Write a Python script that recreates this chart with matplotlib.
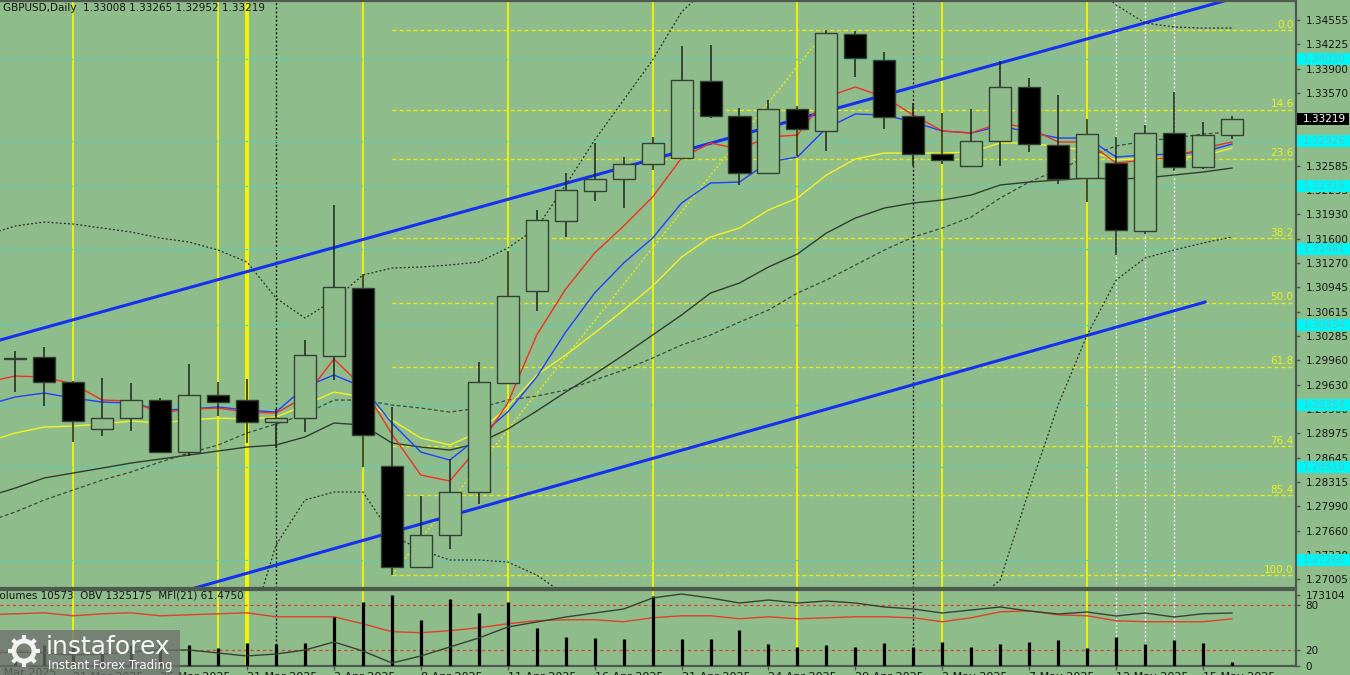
import matplotlib
matplotlib.use("Agg")
import matplotlib.pyplot as plt
import matplotlib.transforms as mtransforms
from matplotlib.patches import Rectangle, Circle
import numpy as np
import pandas as pd

# ---- data (GBPUSD daily) ----
dates = pd.bdate_range("2025-03-18", "2025-05-16")
nan = np.nan
opens = [nan, 1.29985, 1.30006, 1.29668, 1.29034, 1.29182, 1.29425, 1.28723, 1.29493, 1.29425,
         1.29128, 1.29182, 1.30019, 1.30937, 1.28534, 1.27171, 1.27603, 1.28184, 1.29655, 1.30897,
         1.31842, 1.32247, 1.32409, 1.32611, 1.32692, 1.33732, 1.33259, 1.32490, 1.33354, 1.33057,
         1.34366, 1.34015, 1.33259, 1.32746, 1.32584, 1.32922, 1.33651, 1.32868, 1.32422, 1.32625,
         1.31707, 1.33030, 1.32571, 1.33008]
highs = [nan, 1.30087, 1.30141, 1.29682, 1.29722, 1.29655, 1.29452, 1.29911, 1.29668, 1.29709,
         1.29304, 1.30235, 1.32058, 1.31126, 1.29331, 1.28129, 1.28629, 1.29938, 1.31437, 1.31990,
         1.32490, 1.32895, 1.32706, 1.32976, 1.34204, 1.34217, 1.33367, 1.33475, 1.33394, 1.34420,
         1.34407, 1.34123, 1.33435, 1.33300, 1.33354, 1.34002, 1.33772, 1.33543, 1.33219, 1.32976,
         1.33138, 1.33583, 1.33178, 1.33265]
lows = [nan, 1.29533, 1.29344, 1.28858, 1.28939, 1.29007, 1.28710, 1.28669, 1.29209, 1.28845,
        1.28777, 1.28993, 1.29695, 1.28521, 1.27063, 1.27160, 1.27414, 1.28022, 1.29645, 1.30627,
        1.31626, 1.32112, 1.32017, 1.32530, 1.32680, 1.33232, 1.32328, 1.32476, 1.32719, 1.32787,
        1.33786, 1.33084, 1.32584, 1.32611, 1.32570, 1.32584, 1.32773, 1.32341, 1.32098, 1.31383,
        1.31666, 1.32517, 1.32544, 1.32952]
closes = [nan, 1.29995, 1.29668, 1.29142, 1.29182, 1.29425, 1.28723, 1.29493, 1.29398, 1.29128,
          1.29182, 1.30033, 1.30951, 1.28953, 1.27171, 1.27603, 1.28184, 1.29668, 1.30829, 1.31855,
          1.32260, 1.32409, 1.32611, 1.32895, 1.33745, 1.33259, 1.32490, 1.33354, 1.33084, 1.34380,
          1.34042, 1.33246, 1.32746, 1.32665, 1.32922, 1.33651, 1.32881, 1.32409, 1.33016, 1.31720,
          1.33030, 1.32571, 1.33003, 1.33219]

ma_red = [1.29668, 1.29749, 1.29736, 1.29642, 1.29425, 1.29412, 1.29250, 1.29304, 1.29317, 1.29263,
          1.29250, 1.29466, 1.29979, 1.29601, 1.28966, 1.28413, 1.28332, 1.28791, 1.29385, 1.30303,
          1.30924, 1.31410, 1.31774, 1.32166, 1.32692, 1.32895, 1.32814, 1.32976, 1.33003, 1.33516,
          1.33651, 1.33516, 1.33273, 1.33057, 1.33030, 1.33165, 1.33097, 1.32908, 1.32908, 1.32625,
          1.32665, 1.32706, 1.32827, 1.32908]
ma_blue = [1.29358, 1.29466, 1.29520, 1.29452, 1.29398, 1.29385, 1.29290, 1.29304, 1.29331, 1.29290,
           1.29263, 1.29601, 1.29763, 1.29601, 1.29115, 1.28723, 1.28615, 1.28926, 1.29263, 1.29736,
           1.30343, 1.30870, 1.31275, 1.31612, 1.32085, 1.32355, 1.32368, 1.32638, 1.32706, 1.33097,
           1.33286, 1.33273, 1.33178, 1.33057, 1.33030, 1.33124, 1.33043, 1.32962, 1.32962, 1.32706,
           1.32733, 1.32746, 1.32773, 1.32881]
ma_yellow = [1.28858, 1.28980, 1.29061, 1.29074, 1.29101, 1.29142, 1.29115, 1.29155, 1.29182, 1.29169,
             1.29196, 1.29358, 1.29533, 1.29466, 1.29155, 1.28912, 1.28818, 1.28993, 1.29331, 1.29763,
             1.30033, 1.30330, 1.30640, 1.30964, 1.31356, 1.31626, 1.31747, 1.31990, 1.32152, 1.32463,
             1.32679, 1.32760, 1.32760, 1.32760, 1.32773, 1.32895, 1.32895, 1.32841, 1.32800, 1.32665,
             1.32692, 1.32692, 1.32719, 1.32827]
ma_gray = [1.28116, 1.28237, 1.28373, 1.28440, 1.28507, 1.28575, 1.28629, 1.28683, 1.28737, 1.28791,
           1.28818, 1.28926, 1.29115, 1.29088, 1.28845, 1.28791, 1.28750, 1.28845, 1.29034, 1.29277,
           1.29533, 1.29776, 1.30033, 1.30303, 1.30573, 1.30870, 1.31005, 1.31221, 1.31396, 1.31680,
           1.31882, 1.32017, 1.32085, 1.32125, 1.32193, 1.32328, 1.32368, 1.32395, 1.32422, 1.32409,
           1.32422, 1.32463, 1.32503, 1.32557]
bb_mid = [1.27778, 1.27914, 1.28076, 1.28211, 1.28345, 1.28454, 1.28588, 1.28710, 1.28818, 1.28980,
          1.29101, 1.29236, 1.29425, 1.29425, 1.29358, 1.29317, 1.29263, 1.29317, 1.29425, 1.29479,
          1.29560, 1.29695, 1.29830, 1.29992, 1.30168, 1.30303, 1.30478, 1.30640, 1.30870, 1.31045,
          1.31248, 1.31450, 1.31626, 1.31747, 1.31896, 1.32152, 1.32368, 1.32530, 1.32706, 1.32854,
          1.32922, 1.32962, 1.33016, 1.33043]
bb_up = [1.31653, 1.31774, 1.31828, 1.31801, 1.31747, 1.31693, 1.31612, 1.31558, 1.31450, 1.31288,
         1.30802, 1.30532, 1.30775, 1.31113, 1.31207, 1.31221, 1.31248, 1.31288, 1.31477, 1.31747,
         1.32328, 1.32935, 1.33475, 1.34015, 1.34663, 1.35027, 1.35365, 1.35635, 1.35905, 1.36175,
         1.36445, 1.36580, 1.36715, 1.36850, 1.37120, 1.37309, 1.36661, 1.35905, 1.35108, 1.34758,
         1.34515, 1.34461, 1.34447, 1.34447]
bb_lo = [1.23850, 1.24026, 1.24161, 1.24363, 1.24566, 1.24836, 1.25106, 1.25376, 1.25646, 1.26186,
         1.27468, 1.28076, 1.28184, 1.28184, 1.27603, 1.27401, 1.27266, 1.27266, 1.27239, 1.27063,
         1.26793, 1.26456, 1.26186, 1.25970, 1.25713, 1.25578, 1.25592, 1.25646, 1.25835, 1.25916,
         1.26051, 1.26321, 1.26537, 1.26645, 1.26672, 1.26996, 1.28211, 1.29358, 1.30303, 1.31045,
         1.31342, 1.31450, 1.31545, 1.31626]

volumes = [50000, 47000, 50000, 52000, 48000, 50000, 51000, 51200, 43900, 56100,
           53600, 56100, 119500, 156000, 173104, 112100, 163300, 129200, 156000, 92600,
           70700, 68300, 65800, 170700, 65800, 65800, 87800, 53600, 46300, 51200,
           46300, 56100, 46300, 58500, 46300, 53600, 58500, 63400, 43900, 70700,
           53600, 63400, 56100, 10573]
obv = [745175, 759675, 745175, 716175, 730675, 759675, 788675, 788675, 745175, 701675,
       730675, 788675, 904675, 774175, 600175, 701675, 832175, 962675, 1122175, 1194675,
       1267175, 1325175, 1383175, 1542675, 1600675, 1542675, 1470175, 1513675, 1470175, 1499175,
       1470175, 1412175, 1383175, 1325175, 1368675, 1412175, 1354175, 1310675, 1339675, 1281675,
       1325175, 1267175, 1314602, 1325175]
mfi = [66.9, 68.2, 69.5, 65.6, 68.2, 69.5, 65.6, 66.9, 68.2, 69.5,
       64.3, 64.3, 64.3, 55.1, 44.7, 43.4, 46.0, 49.9, 55.1, 59.1,
       60.4, 60.4, 57.8, 63.0, 65.6, 65.6, 61.7, 64.3, 61.7, 63.0,
       64.3, 64.3, 63.0, 57.8, 63.0, 70.8, 72.1, 66.9, 65.6, 59.1,
       57.8, 57.8, 57.8, 61.475]

# drawn objects
chan_up_x, chan_up_y = [0, 42.7], [1.30184, 1.34809]
chan_lo_x, chan_lo_y = [0, 42.07], [1.26091, 1.30748]
fib_hi_idx, fib_lo_idx = 29, 14
fib_levels = [0.0, 14.6, 23.6, 38.2, 50.0, 61.8, 76.4, 85.4, 100.0]
cyan_levels = [1.34030, 1.32926, 1.32315, 1.31461, 1.30434, 1.29354, 1.28519, 1.27266]
friday_lines = [3, 8, 13, 18, 23, 28, 33, 38]
thick_yellow = [9]
month_lines = [10, 32]
white_lines = [39, 40, 41]
# 1.32915 and 1.33240 sit fully under the level boxes, so they are left out
price_ticks = [1.27005, 1.27330, 1.27660, 1.27990, 1.28315, 1.28645, 1.28975, 1.29300, 1.29630,
               1.29960, 1.30285, 1.30615, 1.30945, 1.31270, 1.31600, 1.31930, 1.32255, 1.32585,
               1.33570, 1.33900, 1.34225, 1.34555]

# ---- style ----
bg = "#8fbc8b"
frame = "#4f5a4f"
txt = "#151515"
W, H = 1350, 675
x = np.arange(len(dates))
xlim = (0.473, 45.21)

fig = plt.figure(figsize=(13.5, 6.75), dpi=100, facecolor=bg)
ax = fig.add_axes([0, 1 - 588 / H, 1296 / W, (588 - 1.5) / H], facecolor=bg)
axl = fig.add_axes([0, 1 - 666 / H, 1296 / W, (666 - 590) / H], facecolor=bg)

for a in (ax, axl):
    a.set_xlim(*xlim)
    a.spines["left"].set_visible(False)
    for s in ("top", "right", "bottom"):
        a.spines[s].set_color(frame)
        a.spines[s].set_linewidth(1.6)
    for i in friday_lines:
        a.axvline(i, color="#f5f500", lw=1.3, zorder=1)
    for i in thick_yellow:
        a.axvline(i, color="#f5f500", lw=2.8, zorder=1)
    for i in month_lines:
        a.axvline(i, color="#1a1a1a", lw=1.0, ls=(0, (1.5, 1.5)), zorder=1)
    for i in white_lines:
        a.axvline(i, color="#f0f0f0", lw=1.0, ls=(0, (1.5, 1.5)), zorder=1)

# main panel
ax.set_ylim(1.26888, 1.34805)
ax.set_xticks([])
ax.yaxis.tick_right()
ax.set_yticks(price_ticks)
ax.set_yticklabels([f"{p:.5f}" for p in price_ticks])
ax.tick_params(axis="y", length=3, width=1, color=frame, pad=4, labelsize=7.5, labelcolor=txt)

for p in cyan_levels:
    ax.axhline(p, color="#3fd8d0", lw=0.9, ls=(0, (2, 2)), zorder=1.5)

hi, lo = highs[fib_hi_idx], lows[fib_lo_idx]
for lvl in fib_levels:
    fp = hi - lvl / 100 * (hi - lo)
    ax.hlines(fp, fib_lo_idx, xlim[1], color="#eaea10", lw=1.0, ls=(0, (3, 2)), zorder=1.6)
    ax.text(xlim[1] - 0.08, fp + 0.00006, f"{lvl:.1f}", color="#eeee20", fontsize=7.5,
            ha="right", va="bottom", zorder=2)
ax.plot([fib_lo_idx, fib_hi_idx], [lo, hi], color="#eaea10", lw=1.0, ls=(0, (1.5, 1.5)), zorder=1.6)

ax.plot(chan_up_x, chan_up_y, color="#1530f0", lw=2.2, zorder=2)
ax.plot(chan_lo_x, chan_lo_y, color="#1530f0", lw=2.2, zorder=2)

ax.plot(x, bb_up, color="#2a2a2a", lw=0.9, ls=(0, (1.5, 1.8)), zorder=2.5)
ax.plot(x, bb_lo, color="#2a2a2a", lw=0.9, ls=(0, (1.5, 1.8)), zorder=2.5)
ax.plot(x, bb_mid, color="#3d4a3d", lw=0.9, ls=(0, (3, 2)), zorder=2.5)
ax.plot(x, ma_gray, color="#2f3d2f", lw=1.0, zorder=2.6)
ax.plot(x, ma_yellow, color="#f2f226", lw=1.0, zorder=2.7)
ax.plot(x, ma_blue, color="#2040ff", lw=1.0, zorder=2.8)
ax.plot(x, ma_red, color="#f03020", lw=1.0, zorder=2.9)

w = 0.76
for i in x:
    o, h, l, c = opens[i], highs[i], lows[i], closes[i]
    if np.isnan(o):
        continue
    ax.vlines(i, l, h, color="#1c241c", lw=1.1, zorder=4)
    fc = "black" if c < o else bg
    ax.add_patch(Rectangle((i - w / 2, min(o, c)), w, max(abs(c - o), 0.00003),
                           facecolor=fc, edgecolor="#334033", lw=1.0, zorder=5))

# right-side labels
tr = mtransforms.blended_transform_factory(ax.transAxes, ax.transData)
bh = 12 / 7408
for p in cyan_levels:
    ax.add_patch(Rectangle((1.0008, p - bh / 2), 53 / 1296, bh, transform=tr,
                           facecolor="#00f5f5", edgecolor="none", clip_on=False, zorder=10))
    ax.text(1.0055, p, f"{p:.5f}", transform=tr, color="#58c4c4", fontsize=7.5,
            va="center", ha="left", clip_on=False, zorder=11)
last = closes[-1]
ax.add_patch(Rectangle((1.0008, last - bh / 2), 52 / 1296, bh, transform=tr,
                       facecolor="black", edgecolor="none", clip_on=False, zorder=10))
ax.text(1.0055, last, f"{last:.5f}", transform=tr, color="white", fontsize=7.5,
        va="center", ha="left", clip_on=False, zorder=11)

# lower panel: volumes, OBV, MFI
axl.set_ylim(-0.4, 99.5)
for lv in (20, 80):
    axl.axhline(lv, color="#d8402c", lw=0.9, ls=(0, (2.5, 2.5)), zorder=1.2)
axl.plot(x, mfi, color="#e04028", lw=1.0, zorder=3)

tick_idx = list(range(3, len(dates), 3))
axl.set_xticks(tick_idx)
axl.set_xticklabels([f"{dates[i].day} {dates[i].strftime('%b %Y')}" for i in tick_idx], ha="left")
axl.tick_params(axis="x", length=3, width=1, color=frame, pad=1.5, labelsize=8, labelcolor=txt)
axl.text(0, -0.02, f"{dates[0].day} {dates[0].strftime('%b %Y')}",
         transform=mtransforms.blended_transform_factory(axl.transData, axl.transAxes),
         ha="left", va="top", fontsize=8, color=txt, clip_on=False)

axv = axl.twinx()
axv.set_xlim(*xlim)
axv.set_ylim(0, 173104 * 76 / 71)
axv.vlines(x, 0, volumes, color="black", lw=2.3, zorder=3)
axv.set_yticks([173104])
axv.set_yticklabels(["173104"])
axv.tick_params(axis="y", length=3, width=1, color=frame, pad=4, labelsize=7.5, labelcolor=txt)

axo = axl.twinx()
axo.set_xlim(*xlim)
axo.set_ylim(556675, 1658675)
axo.plot(x, obv, color="#344234", lw=1.0)
axo.set_yticks([])
for a in (axv, axo):
    for s in a.spines.values():
        s.set_visible(False)

# twinx moved the MFI ticks to the left, put them back on the right
axl.yaxis.tick_right()
axl.set_yticks([0, 20, 80])
axl.set_yticklabels(["0", "20", "80"])
axl.tick_params(axis="y", length=3, width=1, color=frame, pad=4, labelsize=7.5, labelcolor=txt)

# header texts
fig.text(3 / W, 1 - 3 / H, "GBPUSD,Daily  1.33008 1.33265 1.32952 1.33219", fontsize=7.5,
         color=txt, ha="left", va="top")
fig.text(-7 / W, 1 - 596 / H, "Volumes 10573  OBV 1325175  MFI(21) 61.4750", fontsize=7.5,
         color=txt, ha="left", va="center")

# watermark
ov = fig.add_axes([0, 0, 1, 1])
ov.set_xlim(0, W)
ov.set_ylim(H, 0)
ov.axis("off")
ov.add_patch(Rectangle((0, 630), 180, 45, facecolor="#6e6e6e", alpha=0.75, edgecolor="none"))
ov.add_patch(Circle((24, 651), 10, facecolor="none", edgecolor="white", lw=3.5, alpha=0.9))
for ang in np.linspace(0, 2 * np.pi, 9)[:-1]:
    ov.plot([24 + 11 * np.cos(ang), 24 + 16 * np.cos(ang)],
            [651 + 11 * np.sin(ang), 651 + 16 * np.sin(ang)],
            color="white", lw=3, alpha=0.9, solid_capstyle="butt")
ov.text(46, 647, "instaforex", color="white", fontsize=18, va="center", ha="left", alpha=0.95)
ov.text(48, 666, "Instant Forex Trading", color="white", fontsize=8.5, va="center", ha="left", alpha=0.95)

fig.savefig("out.png", dpi=100, facecolor=bg)
